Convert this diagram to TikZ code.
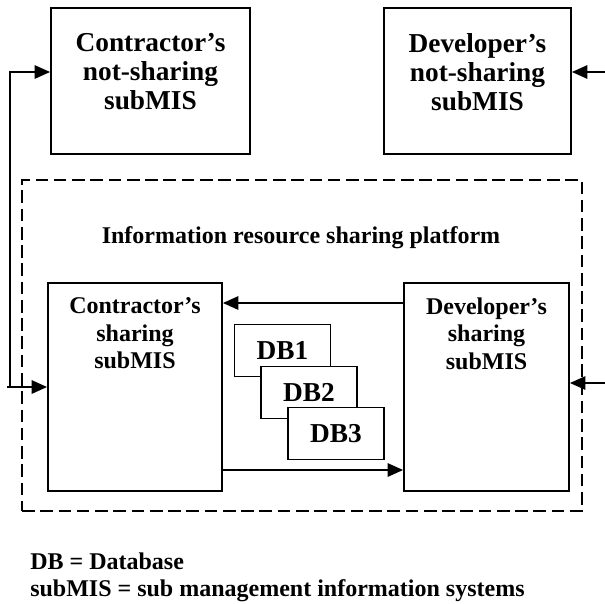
\documentclass[tikz,border=0pt]{standalone}
\usepackage{fontspec}
\setmainfont{Liberation Serif}
\usepackage{tikz}
\usetikzlibrary{arrows.meta, positioning}

\begin{document}
\begin{tikzpicture}[x=0.75pt, y=-0.75pt, >={Triangle[length=11.5pt, width=10pt]}]
	\tikzstyle{format} = [draw, line width=1.4pt, rectangle, inner sep=0pt]
	\tikzstyle{db} = [format, fill=white, minimum width=72pt, minimum height=39pt, font=\fontsize{20.5}{22}\selectfont\bfseries]
	\tikzstyle{outer} = [align=center, inner sep=0pt, font=\fontsize{20.5}{21.75}\selectfont\bfseries]
	\tikzstyle{inner} = [align=center, inner sep=0pt, font=\fontsize{18}{20.6}\selectfont\bfseries]
	\tikzstyle{link} = [->, line width=1.2pt]

	\useasboundingbox (0,0) rectangle (605,603);

	% not-sharing subMIS
	\node[format, minimum width=149.25pt, minimum height=109.5pt] (cn) at (150.5,81) {};
	\node[format, minimum width=140.25pt, minimum height=109.5pt] (dn) at (477.5,81) {};
	\node[outer, below=19.5pt of cn.north] (cntext) {Contractor’s\\not-sharing\\subMIS};
	\node[outer, below=19.5pt of dn.north] (dntext) {Developer’s\\not-sharing\\subMIS};

	% sharing platform
	\node[format, line width=1.2pt, dash pattern=on 9.5pt off 4.2pt, minimum width=420pt, minimum height=248.25pt] (platform) at (302,345.5) {};
	\node[inner, anchor=base] (title) at (301,243) {Information resource sharing platform};

	\node[format, minimum width=130.5pt, minimum height=156pt] (cs) at (135,387) {};
	\node[format, minimum width=123.75pt, minimum height=156pt] (ds) at (486.5,387) {};
	\node[inner, below=11.6pt of cs.north] (cstext) {Contractor’s\\sharing\\subMIS};
	\node[inner, below=11.6pt of ds.north] (dstext) {Developer’s\\sharing\\subMIS};

	\node[db] (db1) at (282.5,350.5) {DB1};
	\node[db] (db2) at (309,392.5) {DB2};
	\node[db] (db3) at (336,433.5) {DB3};

	% connectors
	\coordinate (up) at (0,303);
	\coordinate (low) at (0,470);
	\coordinate (lin) at (7,387);
	\coordinate (lbend) at (10,387);
	\coordinate (ltop) at (0,72);
	\coordinate (rtop) at (605,72);
	\coordinate (rmid) at (605,383);

	\draw[link] (ds.west |- up) -- (cs.east |- up);
	\draw[link] (cs.east |- low) -- (ds.west |- low);
	\draw[link] (lin) -- (cs.west |- lin);
	\draw[link] (lbend) |- (cn.west |- ltop);
	\draw[link] (rtop) -- (dn.east |- rtop);
	\draw[link] (rmid) -- (ds.east |- rmid);

	% key
	\node[inner, anchor=base west] (key1) at (30,569) {DB = Database};
	\node[inner, anchor=base west] (key2) at (30,596) {subMIS = sub management information systems};
\end{tikzpicture}
\end{document}
